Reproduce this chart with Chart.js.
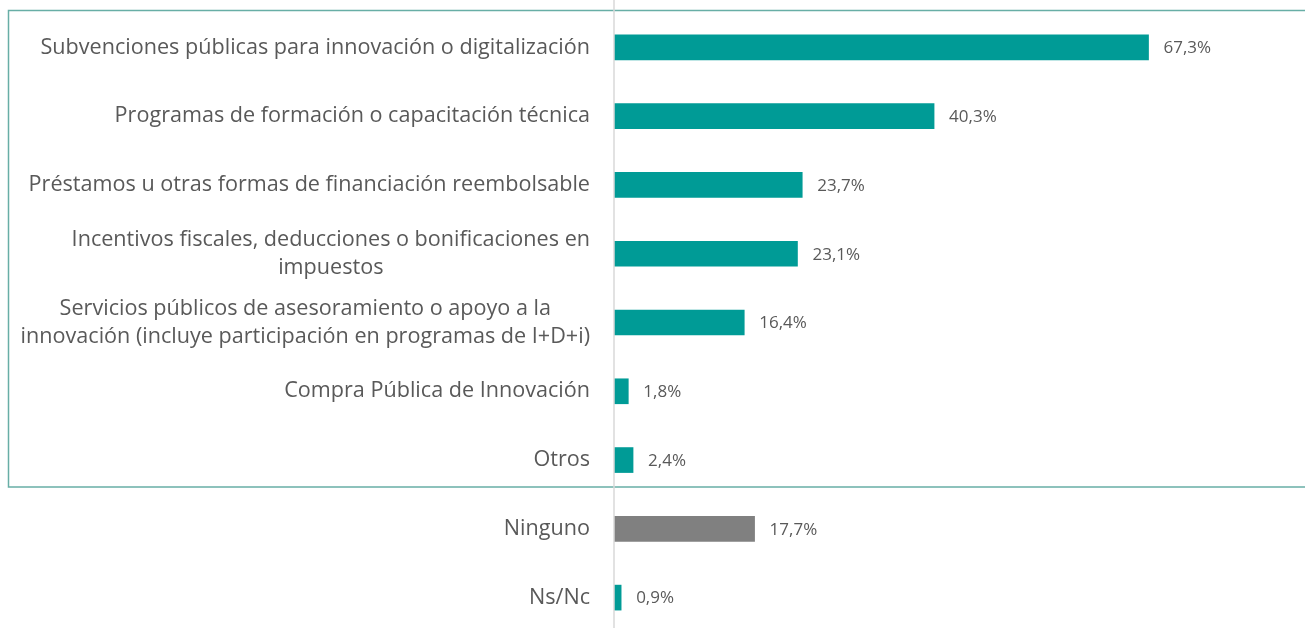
<!DOCTYPE html>
<html lang="es">
<head>
<meta charset="utf-8">
<title>Ayudas públicas</title>
<script src="https://cdn.jsdelivr.net/npm/chart.js@4"></script>
<style>
  html, body { margin: 0; padding: 0; background: #fff; }
  #wrap { width: 1305px; height: 628px; overflow: hidden; position: relative; }
  canvas { display: block; }
</style>
</head>
<body>
<div id="wrap">
  <canvas id="grafico" width="1305" height="640"></canvas>
</div>
<script>
const categorias = [
  'Subvenciones públicas para innovación o digitalización',
  'Programas de formación o capacitación técnica',
  'Préstamos u otras formas de financiación reembolsable',
  ['Incentivos fiscales, deducciones o bonificaciones en', 'impuestos'],
  ['Servicios públicos de asesoramiento o apoyo a la', 'innovación (incluye participación en programas de I+D+i)'],
  'Compra Pública de Innovación',
  'Otros',
  'Ninguno',
  'Ns/Nc'
];
const valores = [67.3, 40.3, 23.7, 23.1, 16.4, 1.8, 2.4, 17.7, 0.9];
// filas que quedan dentro del recuadro (de la 0 a la 6)
const filasRecuadro = [0, 6];

const TEAL = '#009b96';
const GRIS = '#808080';
const fuente = '"Open Sans", Lato, sans-serif';

const etiquetas = {
  id: 'etiquetas',
  beforeDatasetsDraw(chart) {
    const { ctx, scales } = chart;
    const y = scales.y;
    ctx.save();
    // recuadro de las respuestas concretas
    const top = y.getPixelForValue(filasRecuadro[0]) - 37;
    const bottom = y.getPixelForValue(filasRecuadro[1]) + 27;
    ctx.strokeStyle = '#68aea6';
    ctx.lineWidth = 1.5;
    ctx.beginPath();
    ctx.moveTo(1306, top);
    ctx.lineTo(8.5, top);
    ctx.lineTo(8.5, bottom);
    ctx.lineTo(1306, bottom);
    ctx.stroke();
    ctx.restore();
  },
  afterDatasetsDraw(chart) {
    const { ctx, chartArea, scales } = chart;
    const x = scales.x, y = scales.y;
    ctx.save();
    // eje vertical
    ctx.strokeStyle = '#d9d9d9';
    ctx.lineWidth = 1.5;
    ctx.beginPath();
    ctx.moveTo(chartArea.left, 0);
    ctx.lineTo(chartArea.left, chart.height);
    ctx.stroke();

    ctx.fillStyle = '#595959';
    ctx.textBaseline = 'middle';
    // nombres de categoría, bloque alineado a la derecha y líneas centradas
    ctx.font = '21.6px ' + fuente;
    ctx.textAlign = 'center';
    const derecha = chartArea.left - 24;
    const interlinea = 28;
    categorias.forEach((cat, i) => {
      const lineas = Array.isArray(cat) ? cat : [cat];
      const ancho = Math.max(...lineas.map(l => ctx.measureText(l).width));
      const cx = derecha - ancho / 2;
      const cy = y.getPixelForValue(i);
      lineas.forEach((l, j) => {
        ctx.fillText(l, cx, cy + (j - (lineas.length - 1) / 2) * interlinea);
      });
    });
    // porcentajes
    ctx.font = '17px ' + fuente;
    ctx.textAlign = 'left';
    valores.forEach((v, i) => {
      const txt = v.toFixed(1).replace('.', ',') + '%';
      ctx.fillText(txt, x.getPixelForValue(v) + 15, y.getPixelForValue(i) + 1);
    });
    ctx.restore();
  }
};

new Chart(document.getElementById('grafico'), {
  type: 'bar',
  data: {
    labels: categorias,
    datasets: [{
      data: valores,
      backgroundColor: c => categorias[c.dataIndex] === 'Ninguno' ? GRIS : TEAL,
      barThickness: 25,
      borderWidth: 0
    }]
  },
  options: {
    indexAxis: 'y',
    responsive: false,
    animation: false,
    layout: { padding: { left: 614, right: 0, top: 13, bottom: 8 } },
    scales: {
      x: { display: false, min: 0, max: 87 },
      y: { display: false }
    },
    plugins: {
      legend: { display: false },
      tooltip: { enabled: false }
    }
  },
  plugins: [etiquetas]
});
</script>
</body>
</html>
